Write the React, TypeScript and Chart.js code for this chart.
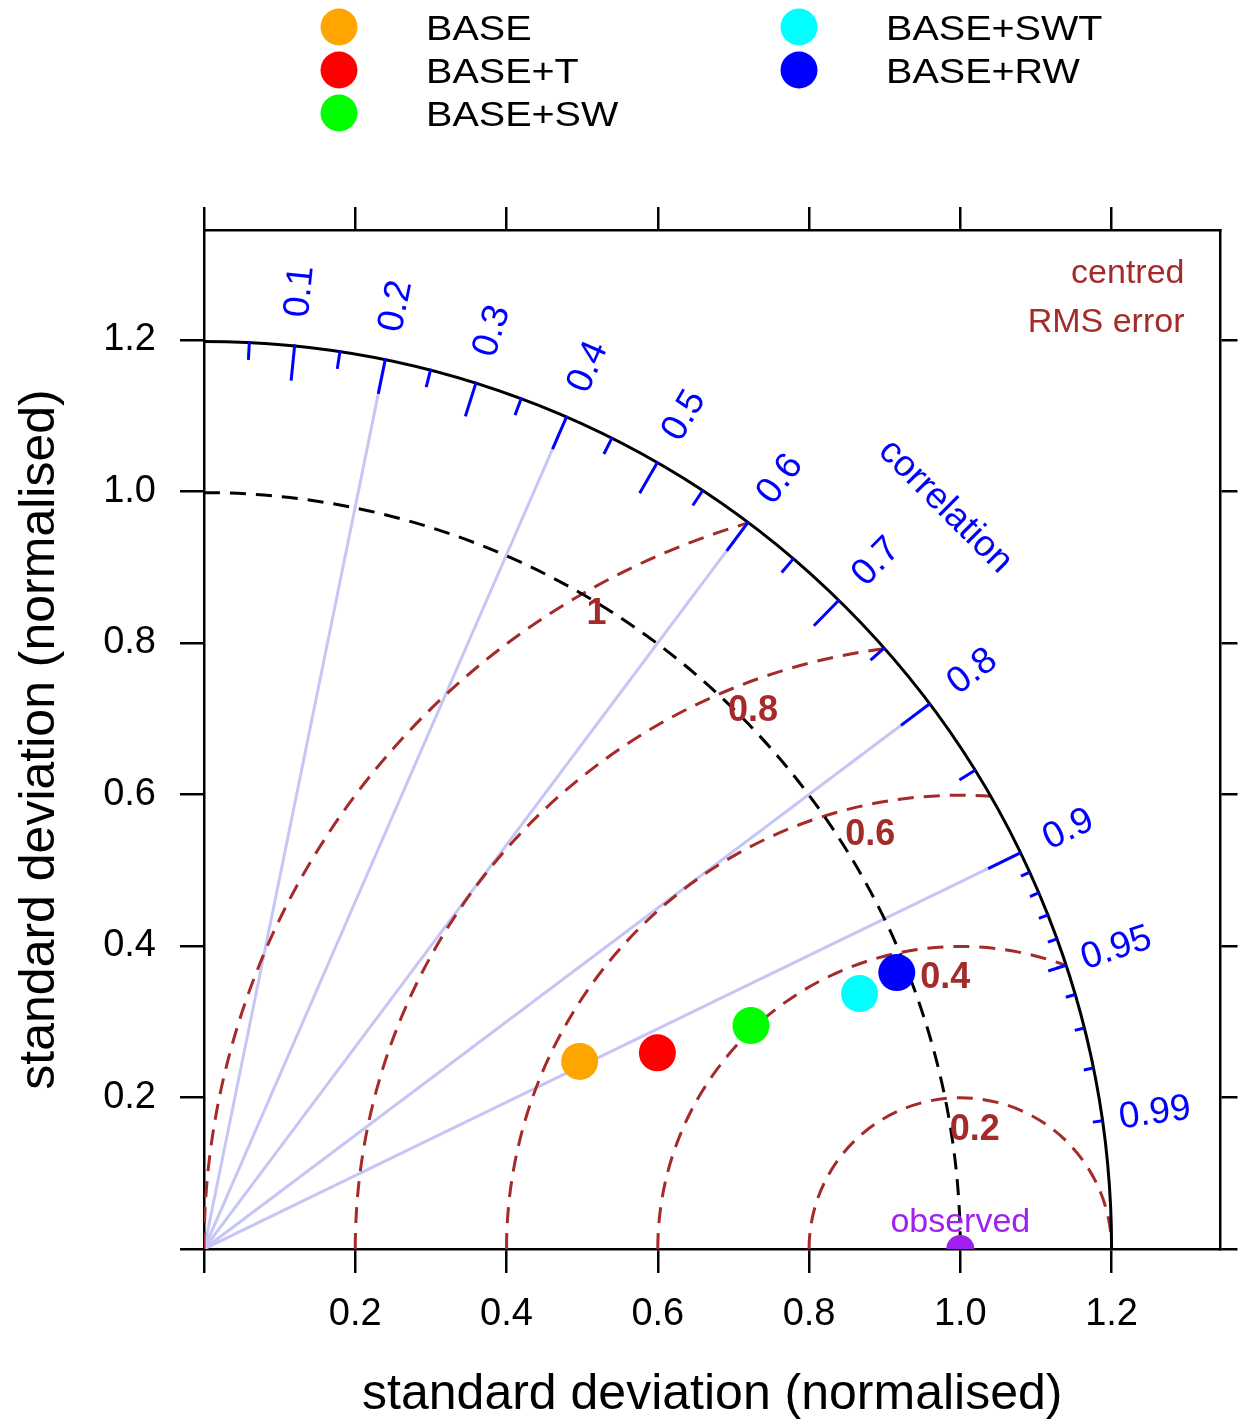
import React, { useEffect, useRef } from 'react';
import { Chart, registerables } from 'chart.js';

Chart.register(...registerables);

// ---- data ----
const MODELS = ['BASE', 'BASE+T', 'BASE+SW', 'BASE+SWT', 'BASE+RW'];
const SD = [0.555, 0.653, 0.781, 0.93, 0.986];
const CORR = [0.895, 0.918, 0.926, 0.932, 0.929];
const MODEL_COLORS = ['#ffa500', '#ff0000', '#00ff00', '#00ffff', '#0000ff'];
const OBS_SD = 1.0;
const OBS_CORR = 1.0;
const SD_TICKS = [0, 0.2, 0.4, 0.6, 0.8, 1.0, 1.2];
const SD_MAX = 1.2;
const AXIS_MAX_X = 1.344;
const AXIS_MAX_Y = 1.345;
const CORR_LINES = [0.2, 0.4, 0.6, 0.8, 0.9];
const CORR_MAJOR = [0.1, 0.2, 0.3, 0.4, 0.5, 0.6, 0.7, 0.8, 0.9];
const CORR_MID = [0.05, 0.15, 0.25, 0.35, 0.45, 0.55, 0.65, 0.75, 0.85, 0.95];
const CORR_MINOR = [0.91, 0.92, 0.93, 0.94, 0.95, 0.96, 0.97, 0.98, 0.99];
const CORR_LABELS = ['0.1', '0.2', '0.3', '0.4', '0.5', '0.6', '0.7', '0.8', '0.9', '0.95', '0.99'];
const RMS_ARCS = [0.2, 0.4, 0.6, 0.8, 1.0];
const RMS_LABELS = ['0.2', '0.4', '0.6', '0.8', '1'];
const RMS_LABEL_X = [1.019, 0.98, 0.881, 0.726, 0.519];
const RMS_LABEL_Y = [0.157, 0.358, 0.547, 0.71, 0.838];

const FONT = '"Liberation Sans", Arial, Helvetica, sans-serif';
const BROWN = '#a52a2a';
const BLUE = '#0000ff';
const PURPLE = '#a020f0';

const toXY = (sd: number, r: number) => ({ x: sd * r, y: sd * Math.sqrt(Math.max(0, 1 - r * r)) });

const taylorPlugin = {
  id: 'taylor',
  beforeDatasetsDraw(chart: any) {
    const ctx = chart.ctx as CanvasRenderingContext2D;
    const xs = chart.scales.x;
    const ys = chart.scales.y;
    const ca = chart.chartArea;
    const px = (v: number) => xs.getPixelForValue(v);
    const py = (v: number) => ys.getPixelForValue(v);
    const ox = px(0);
    const oy = py(0);
    const rad = (r: number) => px(r) - ox;
    const pol = (r: number, c: number) => {
      const a = Math.acos(c);
      return [px(r * Math.cos(a)), py(r * Math.sin(a))];
    };
    ctx.save();
    ctx.beginPath();
    ctx.rect(ca.left, ca.top, ca.right - ca.left, ca.bottom - ca.top);
    ctx.clip();

    // radial correlation lines
    ctx.strokeStyle = '#c6c6f6';
    ctx.lineWidth = 3;
    CORR_LINES.forEach((c) => {
      const [x, y] = pol(SD_MAX, c);
      ctx.beginPath();
      ctx.moveTo(ox, oy);
      ctx.lineTo(x, y);
      ctx.stroke();
    });

    // centred RMS arcs
    ctx.setLineDash([16, 10]);
    ctx.strokeStyle = BROWN;
    ctx.lineWidth = 3;
    const cx = px(OBS_SD);
    RMS_ARCS.forEach((d) => {
      const ix = (SD_MAX * SD_MAX - d * d + OBS_SD * OBS_SD) / (2 * OBS_SD);
      const iy = Math.sqrt(Math.max(0, SD_MAX * SD_MAX - ix * ix));
      const phi = Math.atan2(iy, ix - OBS_SD);
      ctx.beginPath();
      ctx.arc(cx, oy, rad(d), -Math.PI, -phi);
      ctx.stroke();
    });

    // sd = 1 dashed arc
    ctx.strokeStyle = '#000';
    ctx.beginPath();
    ctx.arc(ox, oy, rad(OBS_SD), -Math.PI / 2, 0);
    ctx.stroke();
    ctx.setLineDash([]);

    // outer arc
    ctx.lineWidth = 3;
    ctx.beginPath();
    ctx.arc(ox, oy, rad(SD_MAX), -Math.PI / 2, 0);
    ctx.stroke();

    // correlation ticks
    ctx.strokeStyle = BLUE;
    ctx.lineWidth = 3;
    const tick = (c: number, len: number) => {
      const [x1, y1] = pol(SD_MAX, c);
      const [x2, y2] = pol(SD_MAX - len, c);
      ctx.beginPath();
      ctx.moveTo(x1, y1);
      ctx.lineTo(x2, y2);
      ctx.stroke();
    };
    CORR_MAJOR.forEach((c) => tick(c, 0.048));
    CORR_MID.forEach((c) => tick(c, 0.025));
    CORR_MINOR.forEach((c) => tick(c, 0.013));

    // correlation labels
    ctx.fillStyle = BLUE;
    ctx.font = `37px ${FONT}`;
    ctx.textAlign = 'center';
    ctx.textBaseline = 'middle';
    CORR_LABELS.forEach((lab) => {
      const c = parseFloat(lab);
      const a = Math.acos(c);
      const [x, y] = pol(1.27, c);
      ctx.save();
      ctx.translate(x, y);
      ctx.rotate(-a);
      ctx.fillText(lab, 0, 0);
      ctx.restore();
    });
    {
      const [x, y] = pol(1.386, Math.SQRT1_2);
      ctx.save();
      ctx.translate(x, y);
      ctx.rotate(Math.PI / 4);
      ctx.fillText('correlation', 0, 0);
      ctx.restore();
    }

    // RMS labels
    ctx.fillStyle = BROWN;
    ctx.font = `bold 36px ${FONT}`;
    RMS_LABELS.forEach((lab, i) => {
      ctx.fillText(lab, px(RMS_LABEL_X[i]), py(RMS_LABEL_Y[i]));
    });

    // centred RMS error caption
    ctx.font = `34px ${FONT}`;
    ctx.textAlign = 'right';
    ctx.textBaseline = 'alphabetic';
    ctx.fillText('centred', ca.right - 36, ca.top + 53);
    ctx.fillText('RMS error', ca.right - 36, ca.top + 102);

    // observed label
    ctx.fillStyle = PURPLE;
    ctx.textAlign = 'center';
    ctx.fillText('observed', px(OBS_SD), oy - 17);
    ctx.restore();
  },
  afterDraw(chart: any) {
    const ctx = chart.ctx as CanvasRenderingContext2D;
    ctx.save();
    const cols = [339, 799];
    const textX = [426, 886];
    const rowY = [27, 70, 113];
    MODELS.forEach((m, i) => {
      const col = i < 3 ? 0 : 1;
      const row = i < 3 ? i : i - 3;
      ctx.fillStyle = MODEL_COLORS[i];
      ctx.beginPath();
      ctx.arc(cols[col], rowY[row], 18.5, 0, Math.PI * 2);
      ctx.fill();
      ctx.fillStyle = '#000';
      ctx.font = `35px ${FONT}`;
      ctx.textAlign = 'left';
      ctx.textBaseline = 'alphabetic';
      ctx.save();
      ctx.translate(textX[col], rowY[row] + 13);
      ctx.scale(1.13, 1);
      ctx.fillText(m, 0, 0);
      ctx.restore();
    });
    ctx.restore();
  },
};

const setTicks = (s: any) => {
  s.ticks = SD_TICKS.map((v) => ({ value: v }));
};

export default function App() {
  const ref = useRef<HTMLCanvasElement | null>(null);
  useEffect(() => {
    document.body.style.margin = '0';
    const canvas = ref.current;
    if (!canvas) return;
    Chart.defaults.font.family = FONT;
    const datasets: any[] = MODELS.map((m, i) => ({
      label: m,
      data: [toXY(SD[i], CORR[i])],
      backgroundColor: MODEL_COLORS[i],
      borderColor: MODEL_COLORS[i],
      pointRadius: 18.5,
      pointBorderWidth: 0,
      pointHoverRadius: 18.5,
    }));
    datasets.push({
      label: 'observed',
      data: [toXY(OBS_SD, OBS_CORR)],
      backgroundColor: PURPLE,
      borderColor: PURPLE,
      pointRadius: 14,
      pointBorderWidth: 0,
      clip: 0,
    });
    const gridCommon = {
      drawOnChartArea: false,
      drawTicks: true,
      color: '#000',
      lineWidth: 2.5,
    };
    const border = { display: true, color: '#000', width: 2.5 };
    const tickLabel = (v: any) => (Number(v) === 0 ? '' : Number(v).toFixed(1));
    const chart = new Chart(canvas, {
      type: 'scatter',
      data: { datasets },
      options: {
        animation: false,
        responsive: false,
        devicePixelRatio: 1,
        layout: { padding: 0 },
        plugins: { legend: { display: false }, tooltip: { enabled: false } },
        scales: {
          x: {
            type: 'linear',
            position: 'bottom',
            min: 0,
            max: AXIS_MAX_X,
            afterBuildTicks: setTicks,
            afterFit: (s: any) => { s.height = 174; },
            ticks: { callback: tickLabel, color: '#000', font: { size: 38 }, padding: 19, maxRotation: 0, autoSkip: false },
            grid: { ...gridCommon, tickLength: 24 },
            border,
            title: {
              display: true,
              text: 'standard deviation (normalised)',
              color: '#000',
              font: { size: 50, lineHeight: 1 },
              padding: { top: 0, bottom: 3 },
            },
          },
          y: {
            type: 'linear',
            position: 'left',
            min: 0,
            max: AXIS_MAX_Y,
            afterBuildTicks: setTicks,
            afterFit: (s: any) => { s.width = 204; },
            ticks: { callback: tickLabel, color: '#000', font: { size: 38 }, padding: 24, autoSkip: false },
            grid: { ...gridCommon, tickLength: 24 },
            border,
            title: {
              display: true,
              text: 'standard deviation (normalised)',
              color: '#000',
              font: { size: 50, lineHeight: 1 },
              padding: { top: 15, bottom: 0 },
            },
          },
          x2: {
            type: 'linear',
            position: 'top',
            min: 0,
            max: AXIS_MAX_X,
            afterBuildTicks: setTicks,
            afterFit: (s: any) => { s.height = 230; },
            ticks: { display: false },
            grid: { ...gridCommon, tickLength: 23 },
            border,
          },
          y2: {
            type: 'linear',
            position: 'right',
            min: 0,
            max: AXIS_MAX_Y,
            afterBuildTicks: setTicks,
            afterFit: (s: any) => { s.width = 17; },
            ticks: { display: false },
            grid: { ...gridCommon, tickLength: 17 },
            border,
          },
        },
      } as any,
      plugins: [taylorPlugin],
    });
    return () => chart.destroy();
  }, []);
  return <canvas ref={ref} width={1239} height={1423} style={{ display: 'block' }} />;
}
